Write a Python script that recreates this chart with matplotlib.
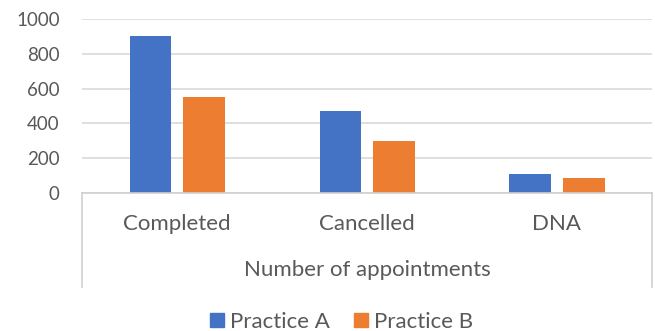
import matplotlib
matplotlib.use('Agg')
import matplotlib.pyplot as plt
from matplotlib.patches import Patch
import numpy as np

categories = ["Completed", "Cancelled", "DNA"]
practice_a = [900, 470, 110]
practice_b = [550, 300, 85]
group_label = "Number of appointments"
yticks = [0, 200, 400, 600, 800, 1000]

blue = "#4472C4"
orange = "#ED7D31"
txt = "#595959"
grid = "#D9D9D9"

plt.rcParams['font.family'] = ['Lato', 'DejaVu Sans']

fig = plt.figure(figsize=(6.55, 3.31), dpi=100)
ax = fig.add_axes([82/655, 138/331, 570/655, 174/331])

x = np.arange(len(categories))
w = 0.22
ax.bar(x - 0.14, practice_a, w, color=blue, label="Practice A", zorder=3)
ax.bar(x + 0.14, practice_b, w, color=orange, label="Practice B", zorder=3)

ax.set_xlim(-0.5, 2.5)
ax.set_ylim(0, 1000)
ax.set_yticks(yticks)
ax.set_yticklabels([str(v) for v in yticks], fontsize=13.5, color=txt)
ax.tick_params(axis='y', length=0, pad=16)
ax.set_xticks([])
ax.yaxis.grid(True, color=grid, linewidth=1.2, zorder=0)
for s in ax.spines.values():
    s.set_visible(False)

# multi-level category axis
lc = "#D0D0D0"
ax.plot([0, 1], [0, 0], transform=ax.transAxes, color=lc, lw=1.2, clip_on=False, zorder=4)
for xv in [0, 1]:
    ax.plot([xv, xv], [0, -0.54], transform=ax.transAxes, color=lc, lw=1.2, clip_on=False)
for i, c in enumerate(categories):
    ax.text((i + 0.5) / 3, -0.178, c, transform=ax.transAxes, ha='center', va='center',
            fontsize=16, color=txt)
ax.text(0.5, -0.443, group_label, transform=ax.transAxes, ha='center', va='center',
        fontsize=16, color=txt)

handles = [Patch(color=blue, label="Practice A"), Patch(color=orange, label="Practice B")]
leg = fig.legend(handles=handles, loc='center', bbox_to_anchor=(0.521, 0.028), ncol=2,
                 frameon=False, fontsize=16, handlelength=0.63, handleheight=0.63,
                 handletextpad=0.27, columnspacing=1.1, labelcolor=txt,
                 borderpad=0, borderaxespad=0)

plt.savefig("out.png", dpi=100)
